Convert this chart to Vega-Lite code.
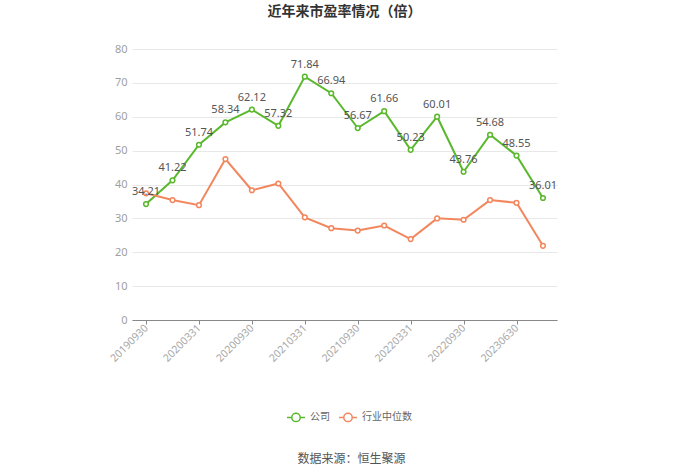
{
  "$schema": "https://vega.github.io/schema/vega-lite/v6.json",
  "width": 425,
  "height": 271,
  "autosize": {"type": "none"},
  "padding": {"left": 132, "top": 49, "right": 143, "bottom": 154},
  "background": "white",
  "title": {
    "text": "近年来市盈率情况（倍）",
    "font": "Noto Sans CJK SC",
    "fontSize": 14,
    "fontWeight": "bold",
    "color": "#333333",
    "anchor": "middle",
    "offset": 24
  },
  "config": {
    "view": {"stroke": null},
    "font": "Noto Sans CJK SC"
  },
  "data": {
    "values": [
      {"date": "20190930", "series": "公司", "value": 34.21},
      {"date": "20191231", "series": "公司", "value": 41.22},
      {"date": "20200331", "series": "公司", "value": 51.74},
      {"date": "20200630", "series": "公司", "value": 58.34},
      {"date": "20200930", "series": "公司", "value": 62.12},
      {"date": "20201231", "series": "公司", "value": 57.32},
      {"date": "20210331", "series": "公司", "value": 71.84},
      {"date": "20210630", "series": "公司", "value": 66.94},
      {"date": "20210930", "series": "公司", "value": 56.67},
      {"date": "20211231", "series": "公司", "value": 61.66},
      {"date": "20220331", "series": "公司", "value": 50.23},
      {"date": "20220630", "series": "公司", "value": 60.01},
      {"date": "20220930", "series": "公司", "value": 43.76},
      {"date": "20230331", "series": "公司", "value": 54.68},
      {"date": "20230630", "series": "公司", "value": 48.55},
      {"date": "20230930", "series": "公司", "value": 36.01},
      {"date": "20190930", "series": "行业中位数", "value": 37.4},
      {"date": "20191231", "series": "行业中位数", "value": 35.4},
      {"date": "20200331", "series": "行业中位数", "value": 33.9},
      {"date": "20200630", "series": "行业中位数", "value": 47.5},
      {"date": "20200930", "series": "行业中位数", "value": 38.3},
      {"date": "20201231", "series": "行业中位数", "value": 40.3},
      {"date": "20210331", "series": "行业中位数", "value": 30.3},
      {"date": "20210630", "series": "行业中位数", "value": 27.1},
      {"date": "20210930", "series": "行业中位数", "value": 26.4},
      {"date": "20211231", "series": "行业中位数", "value": 27.9},
      {"date": "20220331", "series": "行业中位数", "value": 23.9},
      {"date": "20220630", "series": "行业中位数", "value": 30.0},
      {"date": "20220930", "series": "行业中位数", "value": 29.6},
      {"date": "20230331", "series": "行业中位数", "value": 35.4},
      {"date": "20230630", "series": "行业中位数", "value": 34.6},
      {"date": "20230930", "series": "行业中位数", "value": 21.9}
    ]
  },
  "encoding": {
    "x": {
      "field": "date",
      "type": "ordinal",
      "sort": null,
      "scale": {"type": "point", "padding": 0.53},
      "axis": {
        "values": ["20190930", "20200331", "20200930", "20210331", "20210930", "20220331", "20220930", "20230630"],
        "labelAngle": -45,
        "labelAlign": "right",
        "labelBaseline": "middle",
        "labelColor": "#a8a8a8",
        "labelFontSize": 10.5,
        "labelFont": "Noto Sans",
        "labelPadding": 2,
        "domainColor": "#888888",
        "tickColor": "#888888",
        "tickSize": 4,
        "grid": false,
        "title": "数据来源：恒生聚源",
        "titleFontSize": 12,
        "titleFontWeight": "normal",
        "titleColor": "#555555",
        "titleX": 219,
        "titleY": 138,
        "titleAlign": "center",
        "titleBaseline": "middle"
      }
    },
    "y": {
      "field": "value",
      "type": "quantitative",
      "scale": {"domain": [0, 80]},
      "axis": {
        "values": [0, 10, 20, 30, 40, 50, 60, 70, 80],
        "title": null,
        "domain": false,
        "ticks": false,
        "labelColor": "#a0a0a0",
        "labelFontSize": 11,
        "labelFont": "Noto Sans",
        "labelPadding": 5,
        "gridColor": "#e8e8e8"
      }
    }
  },
  "layer": [
    {
      "mark": {"type": "line", "strokeWidth": 2},
      "encoding": {
        "color": {
          "field": "series",
          "type": "nominal",
          "scale": {"domain": ["公司", "行业中位数"], "range": ["#5ab82c", "#f2875e"]},
          "legend": {
            "title": null,
            "orient": "none",
            "direction": "horizontal",
            "legendX": 154,
            "legendY": 358,
            "symbolType": "M-1,0L-0.47,0M0.47,0L1,0M0.47,0A0.47,0.47 0 1,1 -0.47,0A0.47,0.47 0 1,1 0.47,0",
            "symbolSize": 320,
            "symbolStrokeWidth": 1.5,
            "symbolFillColor": "white",
            "labelColor": "#666666",
            "labelFontSize": 10,
            "columnPadding": 6,
            "labelOffset": 4
          }
        }
      }
    },
    {
      "mark": {"type": "point", "filled": false, "fill": "white", "fillOpacity": 1, "strokeWidth": 1.5, "size": 22, "opacity": 1},
      "encoding": {
        "stroke": {"field": "series", "type": "nominal", "scale": {"domain": ["公司", "行业中位数"], "range": ["#5ab82c", "#f2875e"]}, "legend": null}
      }
    },
    {
      "transform": [{"filter": "datum.series === '公司'"}],
      "mark": {"type": "text", "dy": -12, "fontSize": 11, "font": "Noto Sans", "color": "#555555"},
      "encoding": {
        "text": {"field": "value", "type": "quantitative", "format": ".2f"}
      }
    }
  ]
}
